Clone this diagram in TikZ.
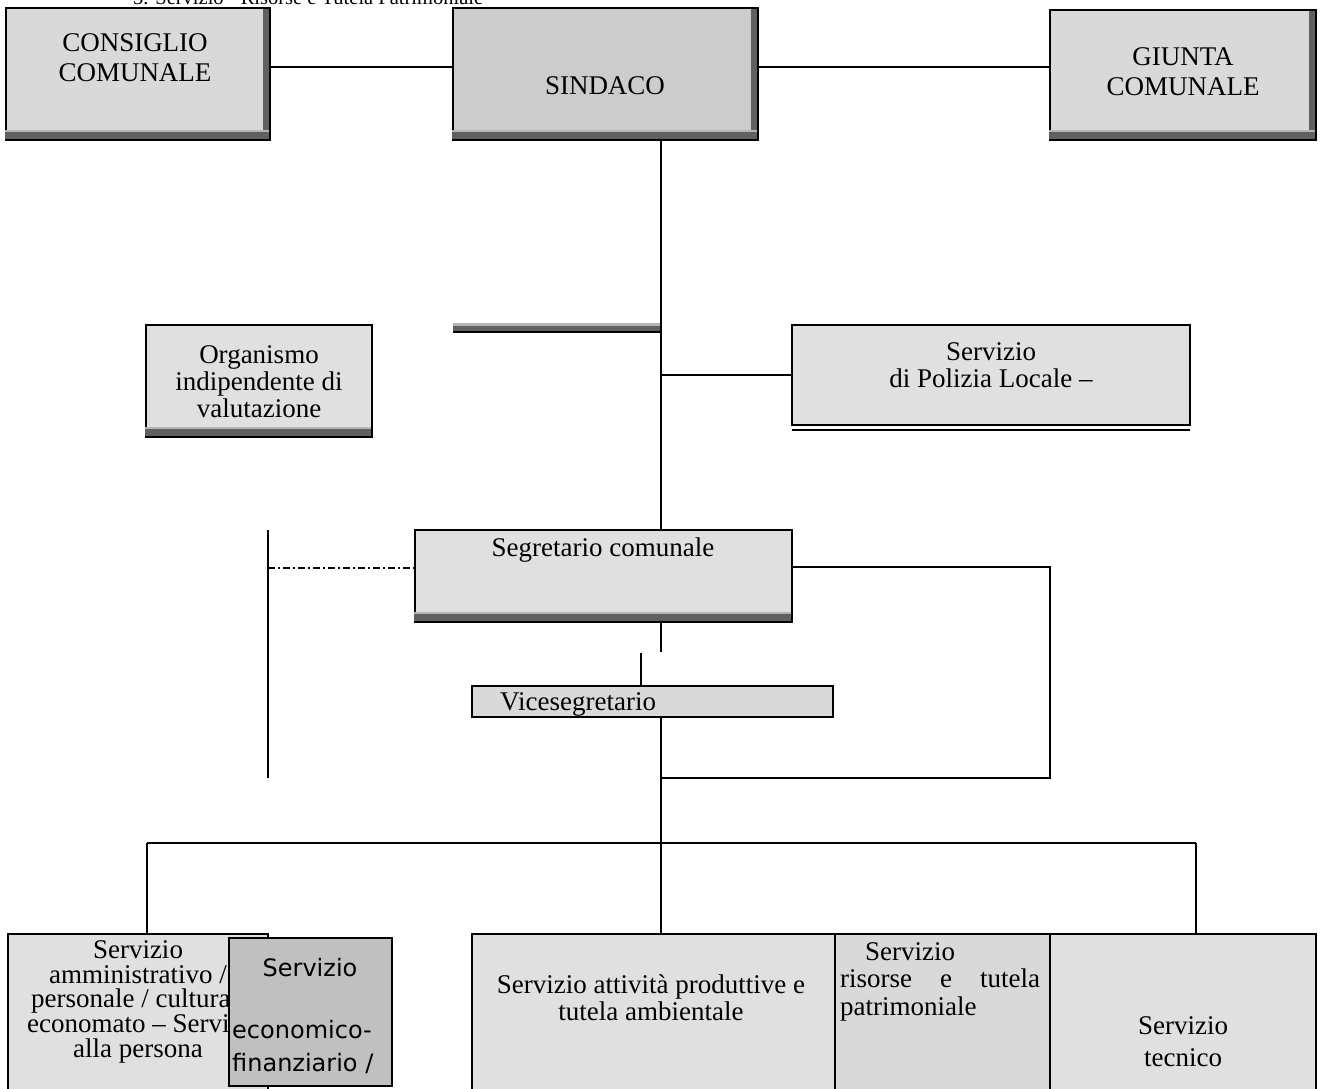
\documentclass[tikz,border=0pt]{standalone}
\usepackage{fontspec}
\setmainfont{Liberation Serif}
\newfontfamily\sansf{DejaVu Sans}
\usetikzlibrary{calc}
\definecolor{fillA}{HTML}{E0E0E0}
\definecolor{fillB}{HTML}{D9D9D9}
\definecolor{fillS}{HTML}{CCCCCC}
\definecolor{fillE}{HTML}{C0C0C0}
\definecolor{shd}{HTML}{606060}
\definecolor{shl}{HTML}{B4B4B4}
\tikzset{
 box/.style={draw=black, line width=2pt, rectangle, anchor=north west, inner sep=0pt, outer sep=0pt},
 ln/.style={draw=black, line width=2pt},
 thinln/.style={draw=black, line width=1.5pt},
 txt/.style={anchor=base, inner sep=0pt, font=\fontsize{27}{25}\selectfont},
 stxt/.style={anchor=base, inner sep=0pt, font=\sansf\fontsize{24}{32}\selectfont},
}
\newcommand\shadeR[1]{\fill[shd] ($(#1.north east)+(-7,1)$) rectangle ($(#1.south east)+(-1,-1)$);}
\newcommand\shadeB[1]{\fill[shl] ($(#1.south west)+(-1,-10)$) rectangle ($(#1.south east)+(-1,-8)$);
  \fill[shd] ($(#1.south west)+(-1,-8)$) rectangle ($(#1.south east)+(-1,-1)$);}
\begin{document}
\begin{tikzpicture}[x=1pt,y=-1pt]
\useasboundingbox (0,0) rectangle (1321,1088);
\clip (0,0) rectangle (1321,1088);
\coordinate (tx) at (661,0);
\coordinate (y67) at (0,67);

% title (cut at the top)
\node[txt, font=\fontsize{20.5}{24}\selectfont, anchor=base west] (title) at (133,4) {5. Servizio - Risorse e Tutela Patrimoniale};

% top row
\node[box, fill=fillB, minimum width=264pt, minimum height=132pt] (cons) at (6,8) {};
\shadeR{cons}\shadeB{cons}
\node[box, fill=fillS, minimum width=305pt, minimum height=132pt] (sind) at (453,8) {};
\shadeR{sind}\shadeB{sind}
\node[box, fill=fillB, minimum width=266pt, minimum height=130pt] (giu) at (1050,10) {};
\shadeR{giu}\shadeB{giu}
\node[txt] (consT1) at (135,51) {CONSIGLIO};
\node[txt] (consT2) at (135,81) {COMUNALE};
\node[txt] (sindT) at (605,94) {SINDACO};
\node[txt] (giuT1) at (1183,65) {GIUNTA};
\node[txt] (giuT2) at (1183,95) {COMUNALE};

\draw[ln] (cons.east |- y67) -- (sind.west |- y67);
\draw[ln] (sind.east |- y67) -- (giu.west |- y67);

% middle
\node[box, fill=fillA, minimum width=226pt, minimum height=112pt] (org) at (146,325) {};
\shadeB{org}
\node[txt] (orgT1) at (259,363) {Organismo};
\node[txt] (orgT2) at (259,390) {indipendente di};
\node[txt] (orgT3) at (259,417) {valutazione};

\node[box, fill=fillA, minimum width=398pt, minimum height=100pt] (pol) at (792,325) {};
\draw[thinln] ($(pol.south west)+(0,5)$) -- ($(pol.south east)+(0,5)$);
\node[txt] (polT1) at (991,360) {Servizio};
\node[txt] (polT2) at (991,387) {di Polizia Locale –};

% bar (shadow of a missing box)
\fill[shl] (453,323) rectangle (661,326);
\fill[shd] (453,326) rectangle (661,331);
\draw[ln] (453,332) -- (661,332);

\node[box, fill=fillA, minimum width=377pt, minimum height=92pt] (seg) at (415,530) {};
\shadeB{seg}
\node[txt] (segT) at (603,556) {Segretario comunale};

\node[box, fill=fillB, minimum width=361pt, minimum height=31pt] (vice) at (472,686) {};
\node[txt, anchor=base west] (viceT) at (500,710) {Vicesegretario};

\draw[ln] (sind.south -| tx) -- (seg.north -| tx);
\draw[ln] (pol.west -| tx) -- (pol.west);

\coordinate (lvtop) at (268,530);
\coordinate (lvbot) at (268,778);
\draw[ln] (lvtop) -- (lvbot);
\coordinate (y568) at (0,568);
\draw[line width=1.5pt, dash pattern=on 7pt off 3pt on 2pt off 3pt] (lvtop |- y568) -- (seg.west |- y568);

\coordinate (rc) at (1050,778);
\coordinate (y567) at (0,567);
\draw[ln] (seg.east |- y567) -| (rc) -- (tx |- rc);

\draw[ln] (seg.south -| tx) -- ++(0,30);
\coordinate (vx) at (641,0);
\draw[ln] (vice.north -| vx) -- ++(0,-33);

% bottom row
\node[box, fill=fillA, minimum width=260pt, minimum height=170pt] (sa) at (8,934) {};
\node[txt] (saT1) at (138,958) {Servizio};
\node[txt] (saT2) at (138,983) {amministrativo /};
\node[txt] (saT3) at (138,1007) {personale / cultura /};
\node[txt] (saT4) at (138,1032) {economato – Servizi};
\node[txt] (saT5) at (138,1057) {alla persona};

\node[box, fill=fillE, minimum width=163pt, minimum height=148pt] (sb) at (229,938) {};
\node[stxt] (sbT1) at (310,976) {Servizio};
\node[stxt, anchor=base west] (sbT2) at (232,1038) {economico-};
\node[stxt, anchor=base west] (sbT3) at (232,1071) {finanziario /};

\node[box, fill=fillA, minimum width=363pt, minimum height=170pt] (c1) at (472,934) {};
\node[box, fill=fillB, minimum width=215pt, minimum height=170pt] (c2) at (835,934) {};
\node[box, fill=fillA, minimum width=266pt, minimum height=170pt] (c3) at (1050,934) {};
\node[txt] (c1T1) at (651,993) {Servizio attività produttive e};
\node[txt] (c1T2) at (651,1020) {tutela ambientale};
\node[txt] (c2T1) at (910,960) {Servizio};
\node[txt, anchor=base west] (c2T2) at (840,987) {\makebox[200pt][l]{risorse\hfill e\hfill tutela}};
\node[txt, anchor=base west] (c2T3) at (840,1015) {patrimoniale};
\node[txt] (c3T1) at (1183,1034) {Servizio};
\node[txt] (c3T2) at (1183,1066) {tecnico};

\coordinate (bl) at (147,843);
\coordinate (br) at (1196,843);
\draw[line width=2.5pt] (bl) -- (br);
\draw[thinln] (bl) -- (sa.north -| bl);
\draw[thinln] (br) -- (c3.north -| br);
\draw[thinln] (vice.south -| tx) -- (c1.north -| tx);
\end{tikzpicture}
\end{document}
